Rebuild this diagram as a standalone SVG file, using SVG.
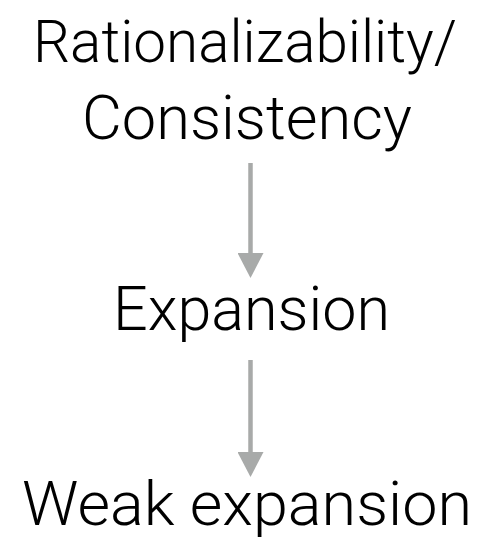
<svg xmlns="http://www.w3.org/2000/svg" width="479" height="539" viewBox="0 0 479 539">
<style>
.lbl{font-family:Roboto,"Liberation Sans",sans-serif;font-weight:300;font-size:62px;fill:#000;text-anchor:middle}
.edge{stroke:#a8aaa9;stroke-width:4.5;fill:none}
</style>
<defs>
<marker id="ah" viewBox="0 0 25 26" refX="0" refY="13" markerWidth="25" markerHeight="26" markerUnits="userSpaceOnUse" orient="auto">
<path d="M0,0 L25,13 L0,26 Z" fill="#a8aaa9"/>
</marker>
</defs>
<rect width="479" height="539" fill="#fff"/>
<g id="connectors">
<line class="edge" x1="250.5" y1="163" x2="250.5" y2="253" marker-end="url(#ah)"/>
<line class="edge" x1="250.5" y1="360" x2="250.5" y2="452" marker-end="url(#ah)"/>
</g>
<g id="node-rationalizability">
<text class="lbl" x="245" y="61.5" textLength="424" lengthAdjust="spacingAndGlyphs" style="font-size:60px">Rationalizability/</text>
<text class="lbl" x="247" y="138.5" textLength="330" lengthAdjust="spacingAndGlyphs">Consistency</text>
</g>
<g id="node-expansion">
<text class="lbl" x="251.5" y="330" textLength="277" lengthAdjust="spacingAndGlyphs">Expansion</text>
</g>
<g id="node-weak-expansion">
<text class="lbl" x="247" y="525" textLength="450" lengthAdjust="spacingAndGlyphs">Weak expansion</text>
</g>
</svg>
